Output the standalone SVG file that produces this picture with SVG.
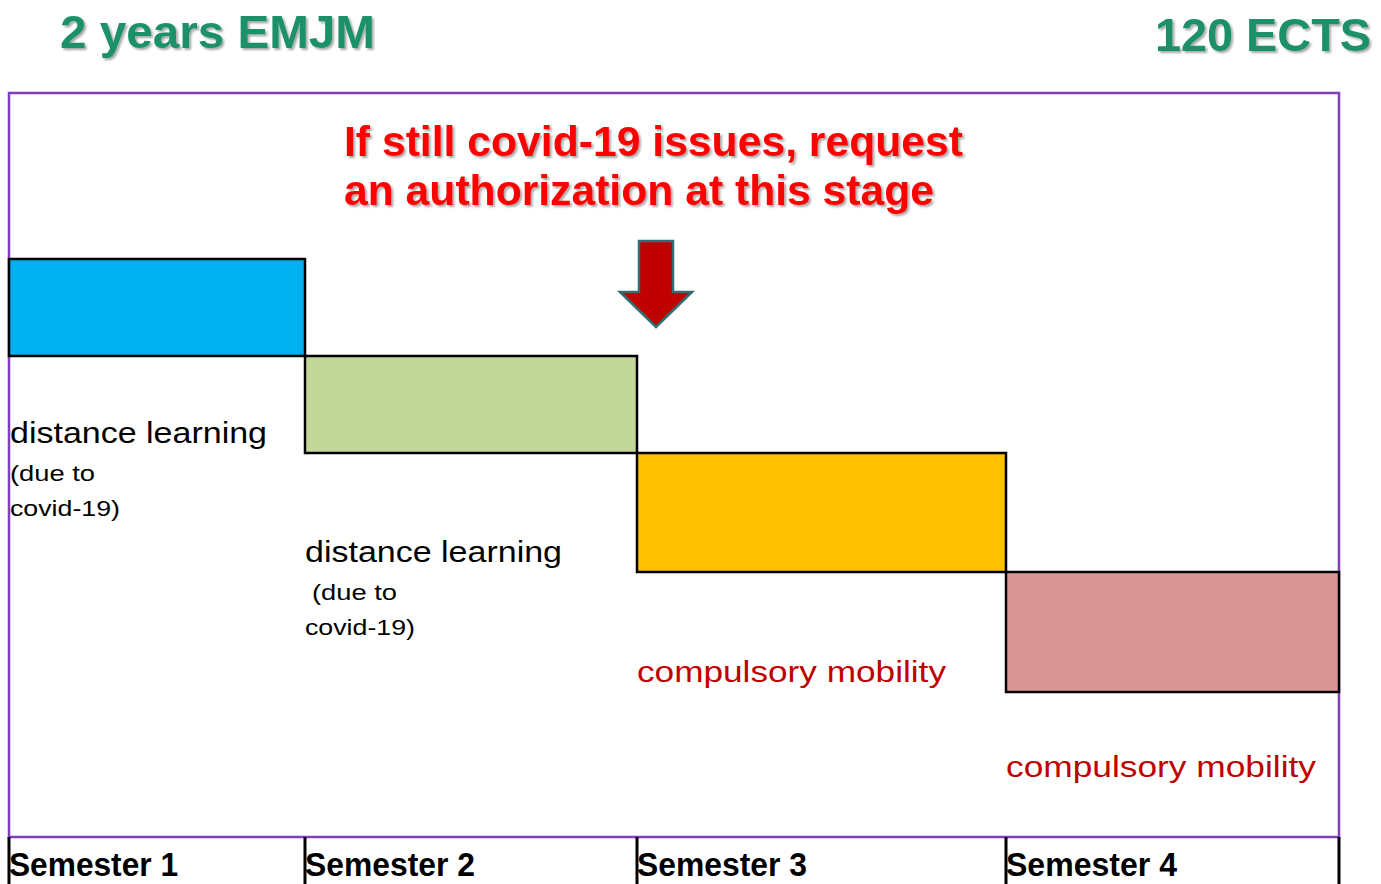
<svg xmlns="http://www.w3.org/2000/svg" width="1381" height="884" viewBox="0 0 1381 884">
<style>
.title{font-family:"Liberation Sans",Arial,sans-serif;font-weight:bold;font-size:46px;fill:#1A9068;}
.alert{font-family:"Liberation Sans",Arial,sans-serif;font-weight:bold;font-size:42px;fill:#FF0000;}
.lbl{font-family:"Liberation Sans",Arial,sans-serif;font-size:29px;fill:#000;}
.small{font-family:"Liberation Sans",Arial,sans-serif;font-size:22px;fill:#000;}
.red{font-family:"Liberation Sans",Arial,sans-serif;font-size:29px;fill:#C00000;}
.sem{font-family:"Liberation Sans",Arial,sans-serif;font-weight:bold;font-size:33px;fill:#000;}
.blk{stroke:#000;stroke-width:2.5;}
.tick{stroke:#000;stroke-width:3;}
</style>
<defs>
<filter id="sh" x="-5%" y="-20%" width="110%" height="150%">
<feDropShadow dx="2" dy="2" stdDeviation="1.2" flood-color="#000" flood-opacity="0.35"/>
</filter>
</defs>
<rect x="0" y="0" width="1381" height="884" fill="#fff"/>
<g id="header">
<text class="title" x="60" y="48" textLength="315" lengthAdjust="spacingAndGlyphs" filter="url(#sh)">2 years EMJM</text>
<text class="title" x="1155" y="51" textLength="216" lengthAdjust="spacingAndGlyphs" filter="url(#sh)">120 ECTS</text>
</g>
<g id="frame">
<rect x="9" y="93" width="1330" height="744" fill="none" stroke="#7F3FBF" stroke-width="2.5"/>
</g>
<g id="note">
<text class="alert" x="344" y="156" textLength="619" lengthAdjust="spacingAndGlyphs" filter="url(#sh)">If still covid-19 issues, request</text>
<text class="alert" x="344" y="205" textLength="590" lengthAdjust="spacingAndGlyphs" filter="url(#sh)">an authorization at this stage</text>
</g>
<g id="arrow">
<polygon points="639,241 673,241 673,292 692,292 656,327 620,292 639,292" fill="#C00000" stroke="#2F6F6F" stroke-width="2.5" stroke-linejoin="miter"/>
</g>
<g id="semester1">
<rect class="blk" x="9" y="259" width="296" height="97" fill="#00B0F0"/>
<text class="lbl" x="10" y="443" textLength="257" lengthAdjust="spacingAndGlyphs">distance learning</text>
<text class="small" x="10" y="481" textLength="85" lengthAdjust="spacingAndGlyphs">(due to</text>
<text class="small" x="10" y="516" textLength="110" lengthAdjust="spacingAndGlyphs">covid-19)</text>
</g>
<g id="semester2">
<rect class="blk" x="305" y="356" width="332" height="97" fill="#C4D79B"/>
<text class="lbl" x="305" y="562" textLength="257" lengthAdjust="spacingAndGlyphs">distance learning</text>
<text class="small" x="312" y="600" textLength="85" lengthAdjust="spacingAndGlyphs">(due to</text>
<text class="small" x="305" y="635" textLength="110" lengthAdjust="spacingAndGlyphs">covid-19)</text>
</g>
<g id="semester3">
<rect class="blk" x="637" y="453" width="369" height="119" fill="#FFC000"/>
<text class="red" x="637" y="682" textLength="309" lengthAdjust="spacingAndGlyphs">compulsory mobility</text>
</g>
<g id="semester4">
<rect class="blk" x="1006" y="572" width="333" height="120" fill="#DA9694"/>
<text class="red" x="1006" y="777" textLength="310" lengthAdjust="spacingAndGlyphs">compulsory mobility</text>
</g>
<g id="timeline">
<line class="tick" x1="9" y1="837" x2="9" y2="884"/>
<line class="tick" x1="305" y1="837" x2="305" y2="884"/>
<line class="tick" x1="637" y1="837" x2="637" y2="884"/>
<line class="tick" x1="1006" y1="837" x2="1006" y2="884"/>
<line class="tick" x1="1339" y1="837" x2="1339" y2="884"/>
<text class="sem" x="9" y="876" textLength="169" lengthAdjust="spacingAndGlyphs">Semester 1</text>
<text class="sem" x="305" y="876" textLength="170" lengthAdjust="spacingAndGlyphs">Semester 2</text>
<text class="sem" x="637" y="876" textLength="170" lengthAdjust="spacingAndGlyphs">Semester 3</text>
<text class="sem" x="1006" y="876" textLength="171" lengthAdjust="spacingAndGlyphs">Semester 4</text>
</g>
</svg>
